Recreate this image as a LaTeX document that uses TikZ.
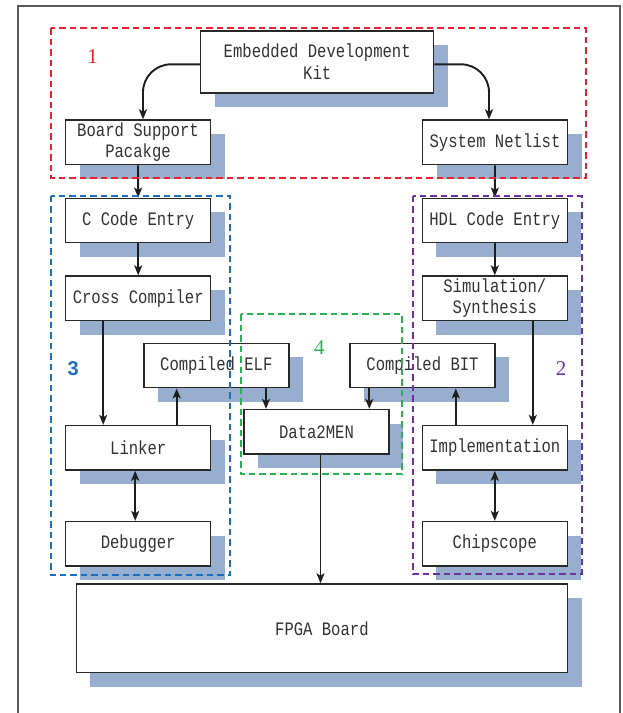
\documentclass[tikz,border=0pt]{standalone}
\usepackage{fontspec}
\setmainfont{Liberation Mono}[FakeStretch=0.82]
\newfontfamily\numserif{Liberation Serif}
\newfontfamily\numsans{Liberation Sans}
\usetikzlibrary{arrows.meta,shadows}
\definecolor{shadowblue}{RGB}{152,174,207}
\definecolor{boxline}{RGB}{40,40,40}
\definecolor{arrowc}{RGB}{30,30,30}
\definecolor{frameg}{RGB}{90,90,90}
\definecolor{gred}{RGB}{232,32,48}
\definecolor{gblue}{RGB}{30,110,190}
\definecolor{ggreen}{RGB}{40,178,80}
\definecolor{gpurple}{RGB}{112,48,160}
\definecolor{txt}{RGB}{50,50,50}
\begin{document}
\begin{tikzpicture}[x=1pt,y=-1pt,
  >={Stealth[length=10pt,width=8pt,inset=2.5pt]},
  box/.style={draw=boxline, line width=1.4pt, fill=white, align=center, text=txt,
    inner sep=0pt, minimum width=145pt, minimum height=44.5pt,
    font=\fontsize{19}{21.5}\selectfont,
    drop shadow={shadow xshift=14pt,shadow yshift=-14pt,fill=shadowblue,opacity=1}},
  arr/.style={draw=arrowc, line width=1.9pt, ->},
  darr/.style={draw=arrowc, line width=1.9pt, <->},
  grp/.style={line width=1.9pt, dash pattern=on 6.5pt off 4pt},
  glabel/.style={inner sep=0pt, font=\numserif\fontsize{21}{21}\selectfont},
]
\useasboundingbox (0,0) rectangle (622,713);
\draw[frameg, line width=1.6pt] (18,713) -- (18,5.7) -- (620,5.7) -- (620,713);

% nodes
\node[box, minimum width=233pt, minimum height=62pt] (edk) at (317.2,61.8) {Embedded Development\\Kit};
\node[box] (bsp) at (138,142.3) {Board Support\\Pacakge};
\node[box] (net) at (495,142.3) {System Netlist};
\node[box] (cce) at (138.2,220.5) {C Code Entry};
\node[box] (cc) at (138.2,298.3) {Cross Compiler};
\node[box] (elf) at (216.3,365.5) {Compiled ELF};
\node[box] (lnk) at (138.2,447.8) {Linker};
\node[box] (dbg) at (138.2,543.8) {Debugger};
\node[box] (hdl) at (494.8,220.5) {HDL Code Entry};
\node[box] (sim) at (494.8,298.3) {Simulation/\\Synthesis};
\node[box] (bit) at (422.5,365.5) {Compiled BIT};
\node[box] (imp) at (494.8,447.8) {Implementation};
\node[box] (chip) at (494.8,543.8) {Chipscope};
\node[box] (d2m) at (316.5,431.8) {Data2MEN};
\node[box, minimum width=491.4pt, minimum height=88.7pt] (fpga) at (321.9,628.3) {FPGA Board};

% arrows
\draw[arr, rounded corners=28pt] ([yshift=-2.5pt]edk.west) -| ([xshift=5pt]bsp.north);
\draw[arr, rounded corners=28pt] ([yshift=-2.5pt]edk.east) -| ([xshift=-6pt]net.north);
\draw[arr] (bsp.south) -- (cce.north);
\draw[arr] (net.south) -- (hdl.north);
\draw[arr] (cce.south) -- (cc.north);
\draw[arr] ([xshift=-35pt]cc.south) -- ([xshift=-35pt]lnk.north);
\draw[arr] ([xshift=38.5pt]lnk.north) -- ([xshift=38.5pt]lnk.north |- elf.south);
\draw[darr] ([xshift=-3pt]lnk.south) -- ([xshift=-3pt]dbg.north);
\draw[arr] ([xshift=49.7pt]elf.south) -- ([xshift=49.7pt]elf.south |- d2m.north);
\draw[arr] ([xshift=-53.2pt]bit.south) -- ([xshift=-53.2pt]bit.south |- d2m.north);
\draw[arr] ([xshift=4pt]d2m.south) -- ([xshift=4pt]d2m.south |- fpga.north);
\draw[arr] (hdl.south) -- (sim.north);
\draw[arr] ([xshift=38pt]sim.south) -- ([xshift=38pt]imp.north);
\draw[arr] ([xshift=-39pt]imp.north) -- ([xshift=-39pt]imp.north |- bit.south);
\draw[darr] (imp.south) -- (chip.north);

% groups
\draw[grp, gred] (50.7,28.3) rectangle (586,177.7);
\draw[grp, gblue] (50.7,195.7) rectangle (230,575);
\draw[grp, ggreen] (240.7,314) rectangle (402,474);
\draw[grp, gpurple] (412.7,195.7) rectangle (581.7,574.3);

\node[glabel, text=gred] (l1) at (92.5,56.7) {1};
\node[glabel, text=gpurple] (l2) at (561,369) {2};
\node[glabel, text=gblue, font=\numsans\bfseries\fontsize{20}{20}\selectfont] (l3) at (73.3,368.3) {3};
\node[glabel, text=ggreen] (l4) at (319.3,347.3) {4};
\end{tikzpicture}
\end{document}
